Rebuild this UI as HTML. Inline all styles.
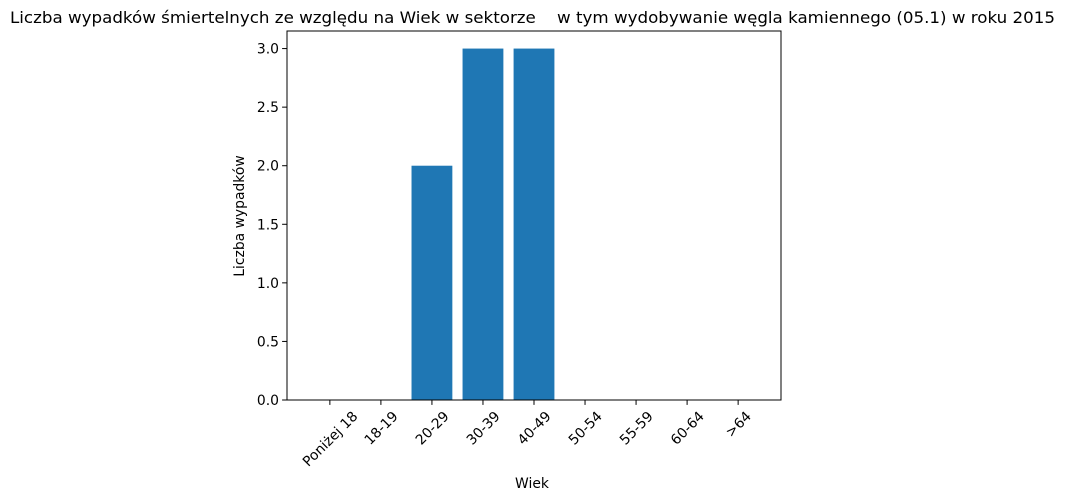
<!DOCTYPE html>
<html><head><meta charset="utf-8"><style>
html,body{margin:0;padding:0;background:#fff;}
svg{display:block;font-family:"DejaVu Sans","Liberation Sans",sans-serif;}
</style></head><body>
<svg id="chart" width="1066" height="500"></svg>
<script>
const categories = ["Poniżej 18","18-19","20-29","30-39","40-49","50-54","55-59","60-64",">64"];
const values = [0,0,2,3,3,0,0,0,0];
const yTicks = [0.0,0.5,1.0,1.5,2.0,2.5,3.0];
const yTickLabels = ["0.0","0.5","1.0","1.5","2.0","2.5","3.0"];

const NS="http://www.w3.org/2000/svg";
const svg=document.getElementById('chart');
const L=287,R=781,T=31,B=400;
const yMax=Math.max(...values)*1.05;
const xMin=-0.84, xMax=categories.length-1+0.84;
const xs=i=>L+(i-xMin)/(xMax-xMin)*(R-L);
const ys=v=>B-v/yMax*(B-T);
function mk(tag,attrs,parent){const e=document.createElementNS(NS,tag);for(const k in attrs)e.setAttribute(k,attrs[k]);(parent||svg).appendChild(e);return e;}

const bw=0.8*(R-L)/(xMax-xMin);
values.forEach((v,i)=>{
  const r=mk('rect',{x:xs(i)-bw/2,y:ys(v),width:bw,height:B-ys(v),fill:'#1f77b4'});
  
  
});
const frame=mk('rect',{x:L,y:T,width:R-L,height:B-T,fill:'none',stroke:'#000','stroke-width':1});



yTicks.forEach((t,i)=>{
  const y=ys(t);
  mk('line',{x1:L-4.9,x2:L,y1:y,y2:y,stroke:'#000','stroke-width':1});
  const tx=mk('text',{x:L-8,y:y+5,'text-anchor':'end','font-size':'13.9px',fill:'#000'});
  tx.textContent=yTickLabels[i];
  
  
});
categories.forEach((c,i)=>{
  const x=xs(i);
  mk('line',{x1:x,x2:x,y1:B,y2:B+4.9,stroke:'#000','stroke-width':1});
  const tx=mk('text',{x:0,y:0,'text-anchor':'middle','font-size':'13.9px',fill:'#000'});
  tx.textContent=c;
  
  
  const w=tx.getComputedTextLength();
  const h=(w+13)/Math.SQRT2;
  const cy=409+h/2;
  tx.setAttribute('transform',`translate(${x},${cy}) rotate(-45) translate(0,5)`);
});

const title=mk('text',{x:10,y:23,'font-size':'16.2px',fill:'#000',textLength:1045,lengthAdjust:'spacingAndGlyphs'});
title.textContent="Liczba wypadków śmiertelnych ze względu na Wiek w sektorze    w tym wydobywanie węgla kamiennego (05.1) w roku 2015";
title.style.whiteSpace='pre';



const xl=mk('text',{x:532,y:488,'text-anchor':'middle','font-size':'13.9px',fill:'#000'});
xl.textContent="Wiek";



const yl=mk('text',{x:0,y:0,'text-anchor':'middle','font-size':'13.9px',fill:'#000',transform:'translate(244,216) rotate(-90)'});
yl.textContent="Liczba wypadków";


</script>
</body></html>
